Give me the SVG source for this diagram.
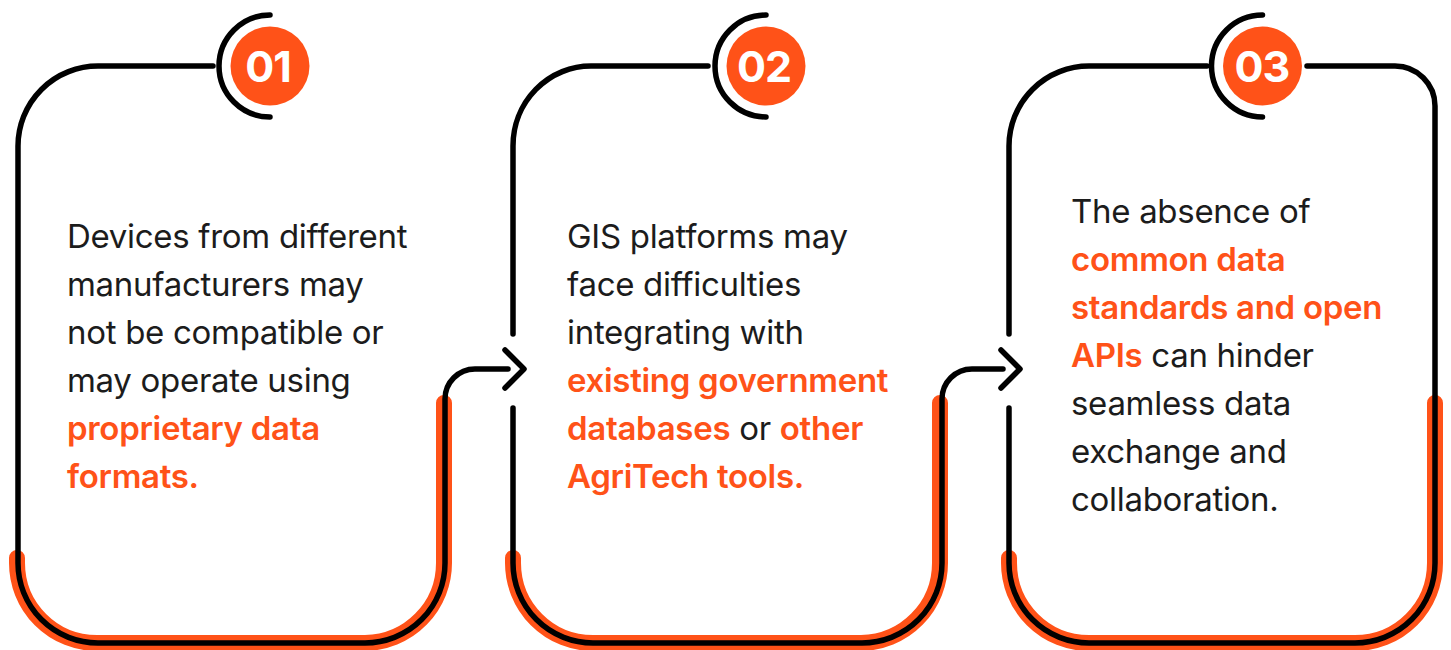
<svg xmlns="http://www.w3.org/2000/svg" width="1451" height="650" viewBox="0 0 1451 650">
<style>
.ln{fill:none;stroke:#000;stroke-width:5.5;stroke-linecap:round;stroke-linejoin:round}
.or{fill:none;stroke:#FF5218;stroke-width:16;stroke-linecap:round}
.bc{fill:#FF5218}
.bt{font-family:Inter,"Liberation Sans",sans-serif;font-weight:700;font-size:43px;fill:#fff;text-anchor:middle;letter-spacing:-1px}
.tx{font-family:Inter,"Liberation Sans",sans-serif;font-size:33px;fill:#1c1c1c;letter-spacing:-0.3px}
.hl{fill:#FF5218;font-weight:600}
</style>
<rect width="1451" height="650" fill="#fff"/>
<g id="card1">
<path class="or" d="M17 558 V563 A80 80 0 0 0 97 643 H365 A80 80 0 0 0 444 563 V403"/>
<path class="ln" d="M213 66 H98 A80 80 0 0 0 18 146 V563 A80 80 0 0 0 98 643 H365 A80 80 0 0 0 445 563 V399 A30 30 0 0 1 475 369 H508"/>
<circle class="bc" cx="270" cy="66" r="39.5"/>
<path class="ln" d="M270 15 A51 51 0 0 0 270 117"/>
<text class="bt" x="268" y="82">01</text>
<text class="tx" x="67" y="248">Devices from different</text>
<text class="tx" x="67" y="296">manufacturers may</text>
<text class="tx" x="67" y="344">not be compatible or</text>
<text class="tx" x="67" y="392">may operate using</text>
<text class="tx hl" x="67" y="440">proprietary data</text>
<text class="tx hl" x="67" y="488">formats.</text>
</g>
<g id="card2">
<path class="or" d="M513 558 V563 A80 80 0 0 0 593 643 H861 A80 80 0 0 0 940 563 V403"/>
<path class="ln" d="M513 334 V146 A78 80 0 0 1 591 66 H708"/>
<path class="ln" d="M513 408 V563 A80 80 0 0 0 593 643 H862 A80 80 0 0 0 942 563 V399 A30 30 0 0 1 972 369 H1003"/>
<circle class="bc" cx="766" cy="66" r="39.5"/>
<path class="ln" d="M766 15 A51 51 0 0 0 766 117"/>
<text class="bt" x="764" y="82">02</text>
<text class="tx" x="567" y="248">GIS platforms may</text>
<text class="tx" x="567" y="296">face difficulties</text>
<text class="tx" x="567" y="344">integrating with</text>
<text class="tx hl" x="567" y="392">existing government</text>
<text class="tx" x="567" y="440"><tspan class="hl">databases</tspan> or <tspan class="hl">other</tspan></text>
<text class="tx hl" x="567" y="488">AgriTech tools.</text>
</g>
<g id="card3">
<path class="or" d="M1009 558 V563 A80 80 0 0 0 1089 643 H1355 A80 80 0 0 0 1435 563 V403"/>
<path class="ln" d="M1009 334 V146 A80 80 0 0 1 1089 66 H1207"/>
<path class="ln" d="M1307 66 H1395 A40 40 0 0 1 1435 106 V563 A80 80 0 0 1 1355 643 H1089 A80 80 0 0 1 1009 563 V408"/>
<circle class="bc" cx="1262.5" cy="66" r="39.5"/>
<path class="ln" d="M1262.5 15 A51 51 0 0 0 1262.5 117"/>
<text class="bt" x="1262" y="82">03</text>
<text class="tx" x="1071" y="223">The absence of</text>
<text class="tx hl" x="1071" y="271">common data</text>
<text class="tx hl" x="1071" y="319">standards and open</text>
<text class="tx" x="1071" y="367"><tspan class="hl">APIs</tspan> can hinder</text>
<text class="tx" x="1071" y="415">seamless data</text>
<text class="tx" x="1071" y="463">exchange and</text>
<text class="tx" x="1071" y="511">collaboration.</text>
</g>
<g id="connectors">
<path class="ln" d="M505 350 L524 369 L505 388"/>
<path class="ln" d="M1001 350 L1020 369 L1001 388"/>
</g>
</svg>
